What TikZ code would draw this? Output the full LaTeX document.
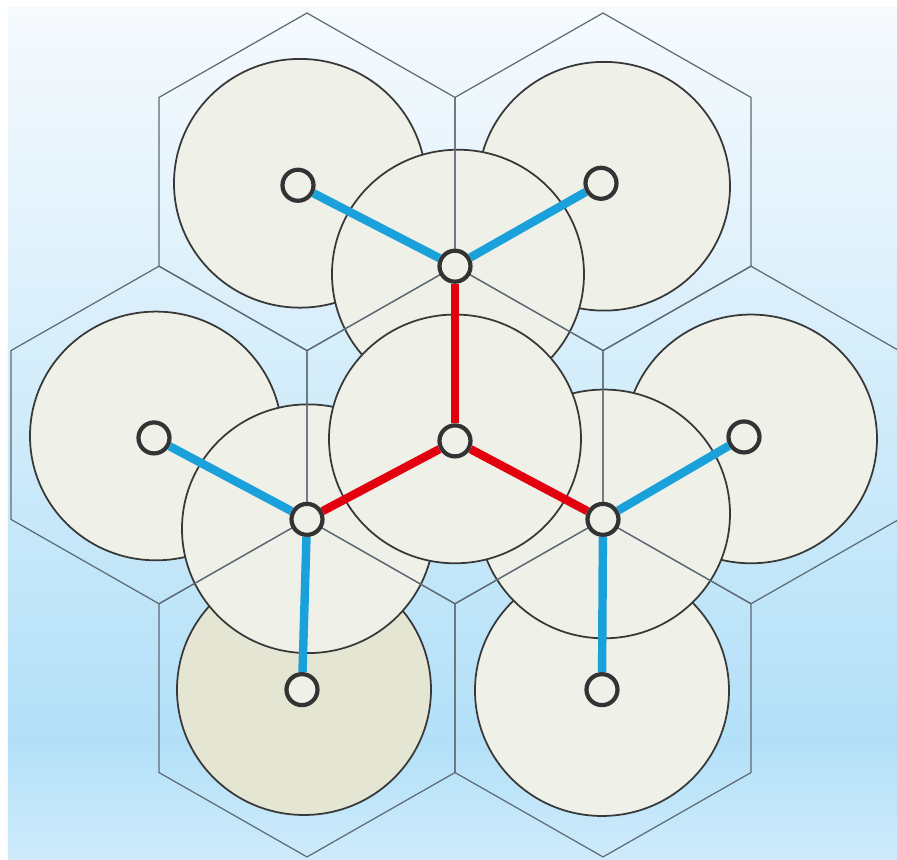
\documentclass[tikz,border=0pt]{standalone}
\usetikzlibrary{shadows}

\definecolor{skytop}{HTML}{F6FAFD}
\definecolor{skylow}{HTML}{B3E0F8}
\definecolor{skyend}{HTML}{CEEBFB}
\definecolor{zonefill}{HTML}{EFF0E7}
\definecolor{zonedark}{HTML}{E4E5D3}
\definecolor{linkblue}{HTML}{1AA0DA}
\definecolor{linkred}{HTML}{E2000F}
\definecolor{hexgray}{HTML}{5E6A74}

\begin{document}
\begin{tikzpicture}[
  x=0.02cm,
  y=0.01974cm,
  zone/.style={fill=zonefill, draw=black!78, line width=1pt},
  hexline/.style={draw=hexgray, line width=0.7pt, line join=miter},
  site/.style={circle, draw=black!80, line width=2.4pt, fill=zonefill, minimum size=0.62cm, inner sep=0pt,
    drop shadow={opacity=0.2, shadow xshift=0.6pt, shadow yshift=-0.8pt}},
  trunk/.style={line width=4.8pt, draw=linkred},
  branch/.style={line width=4.8pt, draw=linkblue},
]

% background
\useasboundingbox (-455,-430.6) rectangle (442,440.7);
\fill[white] (-455,-430.6) rectangle (442,440.7);
\shade[top color=skytop, bottom color=skylow] (-447,-309.5) rectangle (442,432.6);
\shade[top color=skylow, bottom color=skyend] (-447,-430.6) rectangle (442,-309);

% outer coverage zones
\draw[zone] (-155,255) circle (126);
\draw[zone] (149,252) circle (126);
\draw[zone] (-299,-1) circle (126);
\draw[zone] (296,-4) circle (126);
\draw[zone, fill=zonedark] (-151,-258) circle (127);
\draw[zone] (147,-259) circle (127);

% relay zones, then the hub zone on top
\draw[zone] (3,163) circle (126);
\draw[zone] (-147,-95) circle (126);
\draw[zone] (149,-80) circle (126);
\draw[zone] (0,-4) circle (126);

% hexagonal cells
\foreach \cx/\cy in {0/0, -148/256.5, 148/256.5, -296/0, 296/0, -148/-256.5, 148/-256.5}
  \draw[hexline] (\cx,\cy) ++(0,171) -- ++(148,-85.5) -- ++(0,-171) -- ++(-148,-85.5)
    -- ++(-148,85.5) -- ++(0,171) -- cycle;

\node[site] (nC) at (0,-6) {};
\node[site] (nT) at (0,171) {};
\node[site] (nL) at (-148,-85.5) {};
\node[site] (nR) at (148,-85.5) {};
\node[site] (nTa) at (-157,253) {};
\node[site] (nTb) at (146,255) {};
\node[site] (nLa) at (-301,-3) {};
\node[site] (nLb) at (-153,-258) {};
\node[site] (nRa) at (289,-2) {};
\node[site] (nRb) at (147,-258) {};

\draw[trunk] (nC) -- (nT);
\draw[trunk] (nC) -- (nL);
\draw[trunk] (nC) -- (nR);
\draw[branch] (nT) -- (nTa);
\draw[branch] (nT) -- (nTb);
\draw[branch] (nL) -- (nLa);
\draw[branch] (nL) -- (nLb);
\draw[branch] (nR) -- (nRa);
\draw[branch] (nR) -- (nRb);

\end{tikzpicture}
\end{document}
